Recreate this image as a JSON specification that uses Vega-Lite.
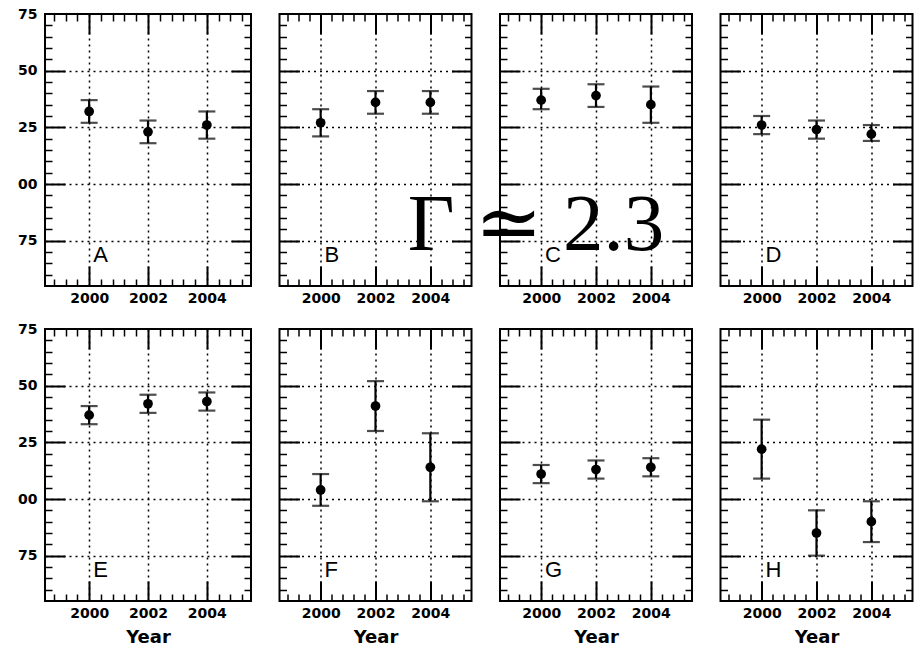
{
  "$schema": "https://vega.github.io/schema/vega-lite/v6.json",
  "background": "white",
  "padding": {"left": 16, "top": 6, "right": 5, "bottom": 5},
  "data": {
    "values": [
      {"panel": "A", "year": 2000, "gamma": 2.32, "lo": 2.27, "hi": 2.37},
      {"panel": "A", "year": 2002, "gamma": 2.23, "lo": 2.18, "hi": 2.28},
      {"panel": "A", "year": 2004, "gamma": 2.26, "lo": 2.20, "hi": 2.32},
      {"panel": "B", "year": 2000, "gamma": 2.27, "lo": 2.21, "hi": 2.33},
      {"panel": "B", "year": 2002, "gamma": 2.36, "lo": 2.31, "hi": 2.41},
      {"panel": "B", "year": 2004, "gamma": 2.36, "lo": 2.31, "hi": 2.41},
      {"panel": "C", "year": 2000, "gamma": 2.37, "lo": 2.33, "hi": 2.42},
      {"panel": "C", "year": 2002, "gamma": 2.39, "lo": 2.34, "hi": 2.44},
      {"panel": "C", "year": 2004, "gamma": 2.35, "lo": 2.27, "hi": 2.43},
      {"panel": "D", "year": 2000, "gamma": 2.26, "lo": 2.22, "hi": 2.30},
      {"panel": "D", "year": 2002, "gamma": 2.24, "lo": 2.20, "hi": 2.28},
      {"panel": "D", "year": 2004, "gamma": 2.22, "lo": 2.19, "hi": 2.26},
      {"panel": "E", "year": 2000, "gamma": 2.37, "lo": 2.33, "hi": 2.41},
      {"panel": "E", "year": 2002, "gamma": 2.42, "lo": 2.38, "hi": 2.46},
      {"panel": "E", "year": 2004, "gamma": 2.43, "lo": 2.39, "hi": 2.47},
      {"panel": "F", "year": 2000, "gamma": 2.04, "lo": 1.97, "hi": 2.11},
      {"panel": "F", "year": 2002, "gamma": 2.41, "lo": 2.30, "hi": 2.52},
      {"panel": "F", "year": 2004, "gamma": 2.14, "lo": 1.99, "hi": 2.29},
      {"panel": "G", "year": 2000, "gamma": 2.11, "lo": 2.07, "hi": 2.15},
      {"panel": "G", "year": 2002, "gamma": 2.13, "lo": 2.09, "hi": 2.17},
      {"panel": "G", "year": 2004, "gamma": 2.14, "lo": 2.10, "hi": 2.18},
      {"panel": "H", "year": 2000, "gamma": 2.22, "lo": 2.09, "hi": 2.35},
      {"panel": "H", "year": 2002, "gamma": 1.85, "lo": 1.75, "hi": 1.95},
      {"panel": "H", "year": 2004, "gamma": 1.90, "lo": 1.81, "hi": 1.99}
    ]
  },
  "columns": 4,
  "spacing": {"row": 43, "column": 28.5},
  "bounds": "flush",
  "align": "each",
  "concat": [
    {
      "width": 206, "height": 272,
      "transform": [{"filter": "datum.panel === 'A'"}],
      "layer": [
        {"mark": {"type": "rule", "color": "black", "strokeWidth": 2.2},
         "encoding": {
           "x": {"field": "year", "type": "quantitative", "scale": {"domain": [1998.5, 2005.5], "nice": false, "zero": false},
                 "axis": {"orient": "bottom", "values": [2000, 2002, 2004], "format": "d", "ticks": false, "grid": false, "labelPadding": 5, "title": null}},
           "y": {"field": "lo", "type": "quantitative", "scale": {"domain": [1.55, 2.75], "nice": false, "zero": false},
                 "axis": {"orient": "left", "values": [1.75, 2, 2.25, 2.5, 2.75], "labelExpr": "slice(format(datum.value, '.2f'), 2)", "ticks": false, "grid": false, "labelPadding": 8, "title": null}},
           "y2": {"field": "hi"}}},
        {"mark": {"type": "tick", "orient": "horizontal", "size": 17, "thickness": 2.2, "color": "black"},
         "encoding": {
           "x": {"field": "year", "type": "quantitative", "axis": {"orient": "bottom", "values": [2000, 2002, 2004], "labels": false, "grid": false, "tickSize": -20, "tickWidth": 2, "title": null}},
           "y": {"field": "lo", "type": "quantitative", "axis": {"orient": "left", "values": [1.75, 2, 2.25, 2.5], "labels": false, "grid": false, "tickSize": -20, "tickWidth": 2, "title": null}}}},
        {"mark": {"type": "tick", "orient": "horizontal", "size": 17, "thickness": 2.2, "color": "black"},
         "encoding": {
           "x": {"field": "year", "type": "quantitative", "axis": {"orient": "bottom", "values": [1998.8, 1999.2, 1999.6, 2000.4, 2000.8, 2001.2, 2001.6, 2002.4, 2002.8, 2003.2, 2003.6, 2004.4, 2004.8, 2005.2], "labels": false, "grid": false, "tickSize": -7, "tickWidth": 1.5, "title": null}},
           "y": {"field": "hi", "type": "quantitative", "axis": {"orient": "left", "values": [1.6, 1.65, 1.7, 1.8, 1.85, 1.9, 1.95, 2.05, 2.1, 2.15, 2.2, 2.3, 2.35, 2.4, 2.45, 2.55, 2.6, 2.65, 2.7], "labels": false, "grid": false, "tickSize": -7, "tickWidth": 1.5, "title": null}}}},
        {"mark": {"type": "point", "shape": "circle", "filled": true, "size": 95, "color": "black", "opacity": 1},
         "encoding": {
           "x": {"field": "year", "type": "quantitative", "axis": {"orient": "top", "values": [2000, 2002, 2004], "labels": false, "grid": true, "tickSize": -20, "tickWidth": 2, "title": null, "zindex": 0}},
           "y": {"field": "gamma", "type": "quantitative", "axis": {"orient": "right", "values": [1.75, 2, 2.25, 2.5], "labels": false, "grid": true, "tickSize": -20, "tickWidth": 2, "title": null, "zindex": 0}}}},
        {"transform": [{"aggregate": [{"op": "count", "as": "n"}], "groupby": ["panel"]}],
         "mark": {"type": "text", "align": "left", "baseline": "alphabetic", "font": "Liberation Sans", "fontSize": 22, "color": "black"},
         "encoding": {
           "x": {"datum": 2000.14, "type": "quantitative", "axis": {"orient": "top", "values": [1998.8, 1999.2, 1999.6, 2000.4, 2000.8, 2001.2, 2001.6, 2002.4, 2002.8, 2003.2, 2003.6, 2004.4, 2004.8, 2005.2], "labels": false, "grid": false, "tickSize": -7, "tickWidth": 1.5, "title": null}},
           "y": {"datum": 1.655, "type": "quantitative", "axis": {"orient": "right", "values": [1.6, 1.65, 1.7, 1.8, 1.85, 1.9, 1.95, 2.05, 2.1, 2.15, 2.2, 2.3, 2.35, 2.4, 2.45, 2.55, 2.6, 2.65, 2.7], "labels": false, "grid": false, "tickSize": -7, "tickWidth": 1.5, "title": null}},
           "text": {"field": "panel"}}}
      ],
      "resolve": {"axis": {"x": "independent", "y": "independent"}}
    },
    {
      "width": 192, "height": 272,
      "transform": [{"filter": "datum.panel === 'B'"}],
      "layer": [
        {"mark": {"type": "rule", "color": "black", "strokeWidth": 2.2},
         "encoding": {
           "x": {"field": "year", "type": "quantitative", "scale": {"domain": [1998.5, 2005.5], "nice": false, "zero": false},
                 "axis": {"orient": "bottom", "values": [2000, 2002, 2004], "format": "d", "ticks": false, "grid": false, "labelPadding": 5, "title": null}},
           "y": {"field": "lo", "type": "quantitative", "scale": {"domain": [1.55, 2.75], "nice": false, "zero": false}, "axis": null},
           "y2": {"field": "hi"}}},
        {"mark": {"type": "tick", "orient": "horizontal", "size": 17, "thickness": 2.2, "color": "black"},
         "encoding": {
           "x": {"field": "year", "type": "quantitative", "axis": {"orient": "bottom", "values": [2000, 2002, 2004], "labels": false, "grid": false, "tickSize": -20, "tickWidth": 2, "title": null}},
           "y": {"field": "lo", "type": "quantitative", "axis": {"orient": "left", "values": [1.75, 2, 2.25, 2.5], "labels": false, "grid": false, "tickSize": -20, "tickWidth": 2, "title": null}}}},
        {"mark": {"type": "tick", "orient": "horizontal", "size": 17, "thickness": 2.2, "color": "black"},
         "encoding": {
           "x": {"field": "year", "type": "quantitative", "axis": {"orient": "bottom", "values": [1998.8, 1999.2, 1999.6, 2000.4, 2000.8, 2001.2, 2001.6, 2002.4, 2002.8, 2003.2, 2003.6, 2004.4, 2004.8, 2005.2], "labels": false, "grid": false, "tickSize": -7, "tickWidth": 1.5, "title": null}},
           "y": {"field": "hi", "type": "quantitative", "axis": {"orient": "left", "values": [1.6, 1.65, 1.7, 1.8, 1.85, 1.9, 1.95, 2.05, 2.1, 2.15, 2.2, 2.3, 2.35, 2.4, 2.45, 2.55, 2.6, 2.65, 2.7], "labels": false, "grid": false, "tickSize": -7, "tickWidth": 1.5, "title": null}}}},
        {"mark": {"type": "point", "shape": "circle", "filled": true, "size": 95, "color": "black", "opacity": 1},
         "encoding": {
           "x": {"field": "year", "type": "quantitative", "axis": {"orient": "top", "values": [2000, 2002, 2004], "labels": false, "grid": true, "tickSize": -20, "tickWidth": 2, "title": null, "zindex": 0}},
           "y": {"field": "gamma", "type": "quantitative", "axis": {"orient": "right", "values": [1.75, 2, 2.25, 2.5], "labels": false, "grid": true, "tickSize": -20, "tickWidth": 2, "title": null, "zindex": 0}}}},
        {"transform": [{"aggregate": [{"op": "count", "as": "n"}], "groupby": ["panel"]}],
         "mark": {"type": "text", "align": "left", "baseline": "alphabetic", "font": "Liberation Sans", "fontSize": 22, "color": "black"},
         "encoding": {
           "x": {"datum": 2000.14, "type": "quantitative", "axis": {"orient": "top", "values": [1998.8, 1999.2, 1999.6, 2000.4, 2000.8, 2001.2, 2001.6, 2002.4, 2002.8, 2003.2, 2003.6, 2004.4, 2004.8, 2005.2], "labels": false, "grid": false, "tickSize": -7, "tickWidth": 1.5, "title": null}},
           "y": {"datum": 1.655, "type": "quantitative", "axis": {"orient": "right", "values": [1.6, 1.65, 1.7, 1.8, 1.85, 1.9, 1.95, 2.05, 2.1, 2.15, 2.2, 2.3, 2.35, 2.4, 2.45, 2.55, 2.6, 2.65, 2.7], "labels": false, "grid": false, "tickSize": -7, "tickWidth": 1.5, "title": null}},
           "text": {"field": "panel"}}}
      ],
      "resolve": {"axis": {"x": "independent", "y": "independent"}}
    },
    {
      "width": 192, "height": 272,
      "transform": [{"filter": "datum.panel === 'C'"}],
      "layer": [
        {"mark": {"type": "rule", "color": "black", "strokeWidth": 2.2},
         "encoding": {
           "x": {"field": "year", "type": "quantitative", "scale": {"domain": [1998.5, 2005.5], "nice": false, "zero": false},
                 "axis": {"orient": "bottom", "values": [2000, 2002, 2004], "format": "d", "ticks": false, "grid": false, "labelPadding": 5, "title": null}},
           "y": {"field": "lo", "type": "quantitative", "scale": {"domain": [1.55, 2.75], "nice": false, "zero": false}, "axis": null},
           "y2": {"field": "hi"}}},
        {"mark": {"type": "tick", "orient": "horizontal", "size": 17, "thickness": 2.2, "color": "black"},
         "encoding": {
           "x": {"field": "year", "type": "quantitative", "axis": {"orient": "bottom", "values": [2000, 2002, 2004], "labels": false, "grid": false, "tickSize": -20, "tickWidth": 2, "title": null}},
           "y": {"field": "lo", "type": "quantitative", "axis": {"orient": "left", "values": [1.75, 2, 2.25, 2.5], "labels": false, "grid": false, "tickSize": -20, "tickWidth": 2, "title": null}}}},
        {"mark": {"type": "tick", "orient": "horizontal", "size": 17, "thickness": 2.2, "color": "black"},
         "encoding": {
           "x": {"field": "year", "type": "quantitative", "axis": {"orient": "bottom", "values": [1998.8, 1999.2, 1999.6, 2000.4, 2000.8, 2001.2, 2001.6, 2002.4, 2002.8, 2003.2, 2003.6, 2004.4, 2004.8, 2005.2], "labels": false, "grid": false, "tickSize": -7, "tickWidth": 1.5, "title": null}},
           "y": {"field": "hi", "type": "quantitative", "axis": {"orient": "left", "values": [1.6, 1.65, 1.7, 1.8, 1.85, 1.9, 1.95, 2.05, 2.1, 2.15, 2.2, 2.3, 2.35, 2.4, 2.45, 2.55, 2.6, 2.65, 2.7], "labels": false, "grid": false, "tickSize": -7, "tickWidth": 1.5, "title": null}}}},
        {"mark": {"type": "point", "shape": "circle", "filled": true, "size": 95, "color": "black", "opacity": 1},
         "encoding": {
           "x": {"field": "year", "type": "quantitative", "axis": {"orient": "top", "values": [2000, 2002, 2004], "labels": false, "grid": true, "tickSize": -20, "tickWidth": 2, "title": null, "zindex": 0}},
           "y": {"field": "gamma", "type": "quantitative", "axis": {"orient": "right", "values": [1.75, 2, 2.25, 2.5], "labels": false, "grid": true, "tickSize": -20, "tickWidth": 2, "title": null, "zindex": 0}}}},
        {"transform": [{"aggregate": [{"op": "count", "as": "n"}], "groupby": ["panel"]}],
         "mark": {"type": "text", "align": "left", "baseline": "alphabetic", "font": "Liberation Sans", "fontSize": 22, "color": "black"},
         "encoding": {
           "x": {"datum": 2000.14, "type": "quantitative", "axis": {"orient": "top", "values": [1998.8, 1999.2, 1999.6, 2000.4, 2000.8, 2001.2, 2001.6, 2002.4, 2002.8, 2003.2, 2003.6, 2004.4, 2004.8, 2005.2], "labels": false, "grid": false, "tickSize": -7, "tickWidth": 1.5, "title": null}},
           "y": {"datum": 1.655, "type": "quantitative", "axis": {"orient": "right", "values": [1.6, 1.65, 1.7, 1.8, 1.85, 1.9, 1.95, 2.05, 2.1, 2.15, 2.2, 2.3, 2.35, 2.4, 2.45, 2.55, 2.6, 2.65, 2.7], "labels": false, "grid": false, "tickSize": -7, "tickWidth": 1.5, "title": null}},
           "text": {"field": "panel"}}},
        {"transform": [{"aggregate": [{"op": "count", "as": "n"}], "groupby": ["panel"]}],
         "mark": {"type": "text", "align": "right", "baseline": "alphabetic", "font": "Liberation Serif, DejaVu Serif, serif", "fontSize": 81, "color": "black"},
         "encoding": {
           "x": {"datum": 2004.49, "type": "quantitative", "axis": null},
           "y": {"datum": 1.709, "type": "quantitative", "axis": null},
           "text": {"value": "Γ ≃ 2.3"}}}
      ],
      "resolve": {"axis": {"x": "independent", "y": "independent"}}
    },
    {
      "width": 192, "height": 272,
      "transform": [{"filter": "datum.panel === 'D'"}],
      "layer": [
        {"mark": {"type": "rule", "color": "black", "strokeWidth": 2.2},
         "encoding": {
           "x": {"field": "year", "type": "quantitative", "scale": {"domain": [1998.5, 2005.5], "nice": false, "zero": false},
                 "axis": {"orient": "bottom", "values": [2000, 2002, 2004], "format": "d", "ticks": false, "grid": false, "labelPadding": 5, "title": null}},
           "y": {"field": "lo", "type": "quantitative", "scale": {"domain": [1.55, 2.75], "nice": false, "zero": false}, "axis": null},
           "y2": {"field": "hi"}}},
        {"mark": {"type": "tick", "orient": "horizontal", "size": 17, "thickness": 2.2, "color": "black"},
         "encoding": {
           "x": {"field": "year", "type": "quantitative", "axis": {"orient": "bottom", "values": [2000, 2002, 2004], "labels": false, "grid": false, "tickSize": -20, "tickWidth": 2, "title": null}},
           "y": {"field": "lo", "type": "quantitative", "axis": {"orient": "left", "values": [1.75, 2, 2.25, 2.5], "labels": false, "grid": false, "tickSize": -20, "tickWidth": 2, "title": null}}}},
        {"mark": {"type": "tick", "orient": "horizontal", "size": 17, "thickness": 2.2, "color": "black"},
         "encoding": {
           "x": {"field": "year", "type": "quantitative", "axis": {"orient": "bottom", "values": [1998.8, 1999.2, 1999.6, 2000.4, 2000.8, 2001.2, 2001.6, 2002.4, 2002.8, 2003.2, 2003.6, 2004.4, 2004.8, 2005.2], "labels": false, "grid": false, "tickSize": -7, "tickWidth": 1.5, "title": null}},
           "y": {"field": "hi", "type": "quantitative", "axis": {"orient": "left", "values": [1.6, 1.65, 1.7, 1.8, 1.85, 1.9, 1.95, 2.05, 2.1, 2.15, 2.2, 2.3, 2.35, 2.4, 2.45, 2.55, 2.6, 2.65, 2.7], "labels": false, "grid": false, "tickSize": -7, "tickWidth": 1.5, "title": null}}}},
        {"mark": {"type": "point", "shape": "circle", "filled": true, "size": 95, "color": "black", "opacity": 1},
         "encoding": {
           "x": {"field": "year", "type": "quantitative", "axis": {"orient": "top", "values": [2000, 2002, 2004], "labels": false, "grid": true, "tickSize": -20, "tickWidth": 2, "title": null, "zindex": 0}},
           "y": {"field": "gamma", "type": "quantitative", "axis": {"orient": "right", "values": [1.75, 2, 2.25, 2.5], "labels": false, "grid": true, "tickSize": -20, "tickWidth": 2, "title": null, "zindex": 0}}}},
        {"transform": [{"aggregate": [{"op": "count", "as": "n"}], "groupby": ["panel"]}],
         "mark": {"type": "text", "align": "left", "baseline": "alphabetic", "font": "Liberation Sans", "fontSize": 22, "color": "black"},
         "encoding": {
           "x": {"datum": 2000.14, "type": "quantitative", "axis": {"orient": "top", "values": [1998.8, 1999.2, 1999.6, 2000.4, 2000.8, 2001.2, 2001.6, 2002.4, 2002.8, 2003.2, 2003.6, 2004.4, 2004.8, 2005.2], "labels": false, "grid": false, "tickSize": -7, "tickWidth": 1.5, "title": null}},
           "y": {"datum": 1.655, "type": "quantitative", "axis": {"orient": "right", "values": [1.6, 1.65, 1.7, 1.8, 1.85, 1.9, 1.95, 2.05, 2.1, 2.15, 2.2, 2.3, 2.35, 2.4, 2.45, 2.55, 2.6, 2.65, 2.7], "labels": false, "grid": false, "tickSize": -7, "tickWidth": 1.5, "title": null}},
           "text": {"field": "panel"}}}
      ],
      "resolve": {"axis": {"x": "independent", "y": "independent"}}
    },
    {
      "width": 206, "height": 272,
      "transform": [{"filter": "datum.panel === 'E'"}],
      "layer": [
        {"mark": {"type": "rule", "color": "black", "strokeWidth": 2.2},
         "encoding": {
           "x": {"field": "year", "type": "quantitative", "scale": {"domain": [1998.5, 2005.5], "nice": false, "zero": false},
                 "axis": {"orient": "bottom", "values": [2000, 2002, 2004], "format": "d", "ticks": false, "grid": false, "labelPadding": 5, "title": "Year"}},
           "y": {"field": "lo", "type": "quantitative", "scale": {"domain": [1.55, 2.75], "nice": false, "zero": false},
                 "axis": {"orient": "left", "values": [1.75, 2, 2.25, 2.5, 2.75], "labelExpr": "slice(format(datum.value, '.2f'), 2)", "ticks": false, "grid": false, "labelPadding": 8, "title": null}},
           "y2": {"field": "hi"}}},
        {"mark": {"type": "tick", "orient": "horizontal", "size": 17, "thickness": 2.2, "color": "black"},
         "encoding": {
           "x": {"field": "year", "type": "quantitative", "axis": {"orient": "bottom", "values": [2000, 2002, 2004], "labels": false, "grid": false, "tickSize": -20, "tickWidth": 2, "title": null}},
           "y": {"field": "lo", "type": "quantitative", "axis": {"orient": "left", "values": [1.75, 2, 2.25, 2.5], "labels": false, "grid": false, "tickSize": -20, "tickWidth": 2, "title": null}}}},
        {"mark": {"type": "tick", "orient": "horizontal", "size": 17, "thickness": 2.2, "color": "black"},
         "encoding": {
           "x": {"field": "year", "type": "quantitative", "axis": {"orient": "bottom", "values": [1998.8, 1999.2, 1999.6, 2000.4, 2000.8, 2001.2, 2001.6, 2002.4, 2002.8, 2003.2, 2003.6, 2004.4, 2004.8, 2005.2], "labels": false, "grid": false, "tickSize": -7, "tickWidth": 1.5, "title": null}},
           "y": {"field": "hi", "type": "quantitative", "axis": {"orient": "left", "values": [1.6, 1.65, 1.7, 1.8, 1.85, 1.9, 1.95, 2.05, 2.1, 2.15, 2.2, 2.3, 2.35, 2.4, 2.45, 2.55, 2.6, 2.65, 2.7], "labels": false, "grid": false, "tickSize": -7, "tickWidth": 1.5, "title": null}}}},
        {"mark": {"type": "point", "shape": "circle", "filled": true, "size": 95, "color": "black", "opacity": 1},
         "encoding": {
           "x": {"field": "year", "type": "quantitative", "axis": {"orient": "top", "values": [2000, 2002, 2004], "labels": false, "grid": true, "tickSize": -20, "tickWidth": 2, "title": null, "zindex": 0}},
           "y": {"field": "gamma", "type": "quantitative", "axis": {"orient": "right", "values": [1.75, 2, 2.25, 2.5], "labels": false, "grid": true, "tickSize": -20, "tickWidth": 2, "title": null, "zindex": 0}}}},
        {"transform": [{"aggregate": [{"op": "count", "as": "n"}], "groupby": ["panel"]}],
         "mark": {"type": "text", "align": "left", "baseline": "alphabetic", "font": "Liberation Sans", "fontSize": 22, "color": "black"},
         "encoding": {
           "x": {"datum": 2000.14, "type": "quantitative", "axis": {"orient": "top", "values": [1998.8, 1999.2, 1999.6, 2000.4, 2000.8, 2001.2, 2001.6, 2002.4, 2002.8, 2003.2, 2003.6, 2004.4, 2004.8, 2005.2], "labels": false, "grid": false, "tickSize": -7, "tickWidth": 1.5, "title": null}},
           "y": {"datum": 1.655, "type": "quantitative", "axis": {"orient": "right", "values": [1.6, 1.65, 1.7, 1.8, 1.85, 1.9, 1.95, 2.05, 2.1, 2.15, 2.2, 2.3, 2.35, 2.4, 2.45, 2.55, 2.6, 2.65, 2.7], "labels": false, "grid": false, "tickSize": -7, "tickWidth": 1.5, "title": null}},
           "text": {"field": "panel"}}}
      ],
      "resolve": {"axis": {"x": "independent", "y": "independent"}}
    },
    {
      "width": 192, "height": 272,
      "transform": [{"filter": "datum.panel === 'F'"}],
      "layer": [
        {"mark": {"type": "rule", "color": "black", "strokeWidth": 2.2},
         "encoding": {
           "x": {"field": "year", "type": "quantitative", "scale": {"domain": [1998.5, 2005.5], "nice": false, "zero": false},
                 "axis": {"orient": "bottom", "values": [2000, 2002, 2004], "format": "d", "ticks": false, "grid": false, "labelPadding": 5, "title": "Year"}},
           "y": {"field": "lo", "type": "quantitative", "scale": {"domain": [1.55, 2.75], "nice": false, "zero": false}, "axis": null},
           "y2": {"field": "hi"}}},
        {"mark": {"type": "tick", "orient": "horizontal", "size": 17, "thickness": 2.2, "color": "black"},
         "encoding": {
           "x": {"field": "year", "type": "quantitative", "axis": {"orient": "bottom", "values": [2000, 2002, 2004], "labels": false, "grid": false, "tickSize": -20, "tickWidth": 2, "title": null}},
           "y": {"field": "lo", "type": "quantitative", "axis": {"orient": "left", "values": [1.75, 2, 2.25, 2.5], "labels": false, "grid": false, "tickSize": -20, "tickWidth": 2, "title": null}}}},
        {"mark": {"type": "tick", "orient": "horizontal", "size": 17, "thickness": 2.2, "color": "black"},
         "encoding": {
           "x": {"field": "year", "type": "quantitative", "axis": {"orient": "bottom", "values": [1998.8, 1999.2, 1999.6, 2000.4, 2000.8, 2001.2, 2001.6, 2002.4, 2002.8, 2003.2, 2003.6, 2004.4, 2004.8, 2005.2], "labels": false, "grid": false, "tickSize": -7, "tickWidth": 1.5, "title": null}},
           "y": {"field": "hi", "type": "quantitative", "axis": {"orient": "left", "values": [1.6, 1.65, 1.7, 1.8, 1.85, 1.9, 1.95, 2.05, 2.1, 2.15, 2.2, 2.3, 2.35, 2.4, 2.45, 2.55, 2.6, 2.65, 2.7], "labels": false, "grid": false, "tickSize": -7, "tickWidth": 1.5, "title": null}}}},
        {"mark": {"type": "point", "shape": "circle", "filled": true, "size": 95, "color": "black", "opacity": 1},
         "encoding": {
           "x": {"field": "year", "type": "quantitative", "axis": {"orient": "top", "values": [2000, 2002, 2004], "labels": false, "grid": true, "tickSize": -20, "tickWidth": 2, "title": null, "zindex": 0}},
           "y": {"field": "gamma", "type": "quantitative", "axis": {"orient": "right", "values": [1.75, 2, 2.25, 2.5], "labels": false, "grid": true, "tickSize": -20, "tickWidth": 2, "title": null, "zindex": 0}}}},
        {"transform": [{"aggregate": [{"op": "count", "as": "n"}], "groupby": ["panel"]}],
         "mark": {"type": "text", "align": "left", "baseline": "alphabetic", "font": "Liberation Sans", "fontSize": 22, "color": "black"},
         "encoding": {
           "x": {"datum": 2000.14, "type": "quantitative", "axis": {"orient": "top", "values": [1998.8, 1999.2, 1999.6, 2000.4, 2000.8, 2001.2, 2001.6, 2002.4, 2002.8, 2003.2, 2003.6, 2004.4, 2004.8, 2005.2], "labels": false, "grid": false, "tickSize": -7, "tickWidth": 1.5, "title": null}},
           "y": {"datum": 1.655, "type": "quantitative", "axis": {"orient": "right", "values": [1.6, 1.65, 1.7, 1.8, 1.85, 1.9, 1.95, 2.05, 2.1, 2.15, 2.2, 2.3, 2.35, 2.4, 2.45, 2.55, 2.6, 2.65, 2.7], "labels": false, "grid": false, "tickSize": -7, "tickWidth": 1.5, "title": null}},
           "text": {"field": "panel"}}}
      ],
      "resolve": {"axis": {"x": "independent", "y": "independent"}}
    },
    {
      "width": 192, "height": 272,
      "transform": [{"filter": "datum.panel === 'G'"}],
      "layer": [
        {"mark": {"type": "rule", "color": "black", "strokeWidth": 2.2},
         "encoding": {
           "x": {"field": "year", "type": "quantitative", "scale": {"domain": [1998.5, 2005.5], "nice": false, "zero": false},
                 "axis": {"orient": "bottom", "values": [2000, 2002, 2004], "format": "d", "ticks": false, "grid": false, "labelPadding": 5, "title": "Year"}},
           "y": {"field": "lo", "type": "quantitative", "scale": {"domain": [1.55, 2.75], "nice": false, "zero": false}, "axis": null},
           "y2": {"field": "hi"}}},
        {"mark": {"type": "tick", "orient": "horizontal", "size": 17, "thickness": 2.2, "color": "black"},
         "encoding": {
           "x": {"field": "year", "type": "quantitative", "axis": {"orient": "bottom", "values": [2000, 2002, 2004], "labels": false, "grid": false, "tickSize": -20, "tickWidth": 2, "title": null}},
           "y": {"field": "lo", "type": "quantitative", "axis": {"orient": "left", "values": [1.75, 2, 2.25, 2.5], "labels": false, "grid": false, "tickSize": -20, "tickWidth": 2, "title": null}}}},
        {"mark": {"type": "tick", "orient": "horizontal", "size": 17, "thickness": 2.2, "color": "black"},
         "encoding": {
           "x": {"field": "year", "type": "quantitative", "axis": {"orient": "bottom", "values": [1998.8, 1999.2, 1999.6, 2000.4, 2000.8, 2001.2, 2001.6, 2002.4, 2002.8, 2003.2, 2003.6, 2004.4, 2004.8, 2005.2], "labels": false, "grid": false, "tickSize": -7, "tickWidth": 1.5, "title": null}},
           "y": {"field": "hi", "type": "quantitative", "axis": {"orient": "left", "values": [1.6, 1.65, 1.7, 1.8, 1.85, 1.9, 1.95, 2.05, 2.1, 2.15, 2.2, 2.3, 2.35, 2.4, 2.45, 2.55, 2.6, 2.65, 2.7], "labels": false, "grid": false, "tickSize": -7, "tickWidth": 1.5, "title": null}}}},
        {"mark": {"type": "point", "shape": "circle", "filled": true, "size": 95, "color": "black", "opacity": 1},
         "encoding": {
           "x": {"field": "year", "type": "quantitative", "axis": {"orient": "top", "values": [2000, 2002, 2004], "labels": false, "grid": true, "tickSize": -20, "tickWidth": 2, "title": null, "zindex": 0}},
           "y": {"field": "gamma", "type": "quantitative", "axis": {"orient": "right", "values": [1.75, 2, 2.25, 2.5], "labels": false, "grid": true, "tickSize": -20, "tickWidth": 2, "title": null, "zindex": 0}}}},
        {"transform": [{"aggregate": [{"op": "count", "as": "n"}], "groupby": ["panel"]}],
         "mark": {"type": "text", "align": "left", "baseline": "alphabetic", "font": "Liberation Sans", "fontSize": 22, "color": "black"},
         "encoding": {
           "x": {"datum": 2000.14, "type": "quantitative", "axis": {"orient": "top", "values": [1998.8, 1999.2, 1999.6, 2000.4, 2000.8, 2001.2, 2001.6, 2002.4, 2002.8, 2003.2, 2003.6, 2004.4, 2004.8, 2005.2], "labels": false, "grid": false, "tickSize": -7, "tickWidth": 1.5, "title": null}},
           "y": {"datum": 1.655, "type": "quantitative", "axis": {"orient": "right", "values": [1.6, 1.65, 1.7, 1.8, 1.85, 1.9, 1.95, 2.05, 2.1, 2.15, 2.2, 2.3, 2.35, 2.4, 2.45, 2.55, 2.6, 2.65, 2.7], "labels": false, "grid": false, "tickSize": -7, "tickWidth": 1.5, "title": null}},
           "text": {"field": "panel"}}}
      ],
      "resolve": {"axis": {"x": "independent", "y": "independent"}}
    },
    {
      "width": 192, "height": 272,
      "transform": [{"filter": "datum.panel === 'H'"}],
      "layer": [
        {"mark": {"type": "rule", "color": "black", "strokeWidth": 2.2},
         "encoding": {
           "x": {"field": "year", "type": "quantitative", "scale": {"domain": [1998.5, 2005.5], "nice": false, "zero": false},
                 "axis": {"orient": "bottom", "values": [2000, 2002, 2004], "format": "d", "ticks": false, "grid": false, "labelPadding": 5, "title": "Year"}},
           "y": {"field": "lo", "type": "quantitative", "scale": {"domain": [1.55, 2.75], "nice": false, "zero": false}, "axis": null},
           "y2": {"field": "hi"}}},
        {"mark": {"type": "tick", "orient": "horizontal", "size": 17, "thickness": 2.2, "color": "black"},
         "encoding": {
           "x": {"field": "year", "type": "quantitative", "axis": {"orient": "bottom", "values": [2000, 2002, 2004], "labels": false, "grid": false, "tickSize": -20, "tickWidth": 2, "title": null}},
           "y": {"field": "lo", "type": "quantitative", "axis": {"orient": "left", "values": [1.75, 2, 2.25, 2.5], "labels": false, "grid": false, "tickSize": -20, "tickWidth": 2, "title": null}}}},
        {"mark": {"type": "tick", "orient": "horizontal", "size": 17, "thickness": 2.2, "color": "black"},
         "encoding": {
           "x": {"field": "year", "type": "quantitative", "axis": {"orient": "bottom", "values": [1998.8, 1999.2, 1999.6, 2000.4, 2000.8, 2001.2, 2001.6, 2002.4, 2002.8, 2003.2, 2003.6, 2004.4, 2004.8, 2005.2], "labels": false, "grid": false, "tickSize": -7, "tickWidth": 1.5, "title": null}},
           "y": {"field": "hi", "type": "quantitative", "axis": {"orient": "left", "values": [1.6, 1.65, 1.7, 1.8, 1.85, 1.9, 1.95, 2.05, 2.1, 2.15, 2.2, 2.3, 2.35, 2.4, 2.45, 2.55, 2.6, 2.65, 2.7], "labels": false, "grid": false, "tickSize": -7, "tickWidth": 1.5, "title": null}}}},
        {"mark": {"type": "point", "shape": "circle", "filled": true, "size": 95, "color": "black", "opacity": 1},
         "encoding": {
           "x": {"field": "year", "type": "quantitative", "axis": {"orient": "top", "values": [2000, 2002, 2004], "labels": false, "grid": true, "tickSize": -20, "tickWidth": 2, "title": null, "zindex": 0}},
           "y": {"field": "gamma", "type": "quantitative", "axis": {"orient": "right", "values": [1.75, 2, 2.25, 2.5], "labels": false, "grid": true, "tickSize": -20, "tickWidth": 2, "title": null, "zindex": 0}}}},
        {"transform": [{"aggregate": [{"op": "count", "as": "n"}], "groupby": ["panel"]}],
         "mark": {"type": "text", "align": "left", "baseline": "alphabetic", "font": "Liberation Sans", "fontSize": 22, "color": "black"},
         "encoding": {
           "x": {"datum": 2000.14, "type": "quantitative", "axis": {"orient": "top", "values": [1998.8, 1999.2, 1999.6, 2000.4, 2000.8, 2001.2, 2001.6, 2002.4, 2002.8, 2003.2, 2003.6, 2004.4, 2004.8, 2005.2], "labels": false, "grid": false, "tickSize": -7, "tickWidth": 1.5, "title": null}},
           "y": {"datum": 1.655, "type": "quantitative", "axis": {"orient": "right", "values": [1.6, 1.65, 1.7, 1.8, 1.85, 1.9, 1.95, 2.05, 2.1, 2.15, 2.2, 2.3, 2.35, 2.4, 2.45, 2.55, 2.6, 2.65, 2.7], "labels": false, "grid": false, "tickSize": -7, "tickWidth": 1.5, "title": null}},
           "text": {"field": "panel"}}}
      ],
      "resolve": {"axis": {"x": "independent", "y": "independent"}}
    }
  ],
  "config": {
    "view": {"stroke": "black", "strokeWidth": 2},
    "axis": {
      "domain": false,
      "labelFont": "DejaVu Sans",
      "labelFontSize": 14,
      "labelFontWeight": "bold",
      "labelColor": "black",
      "labelFlush": false,
      "tickColor": "black",
      "gridColor": "black",
      "gridDash": [2, 4],
      "gridWidth": 1.5,
      "titleFont": "DejaVu Sans",
      "titleFontSize": 18,
      "titleFontWeight": "bold",
      "titleColor": "black",
      "titlePadding": 8
    }
  }
}
